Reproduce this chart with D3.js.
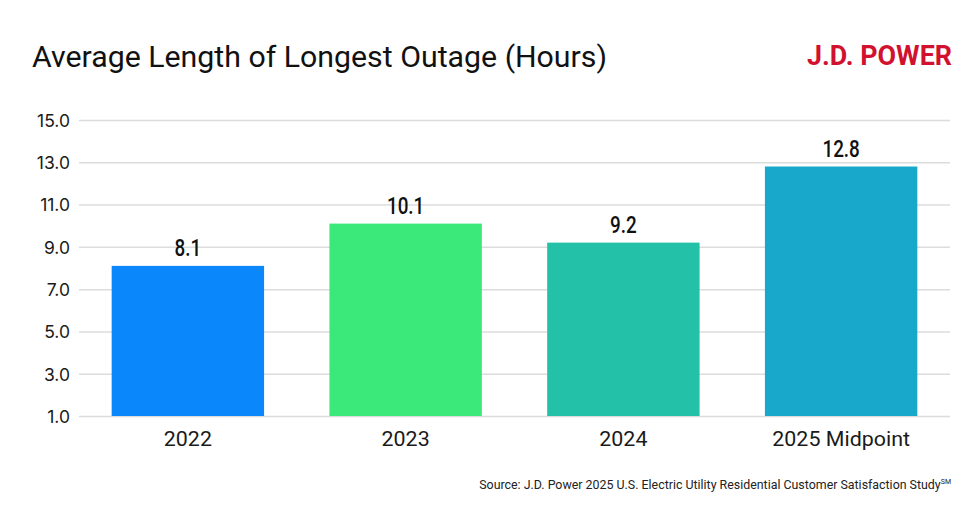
<!DOCTYPE html>
<html>
<head>
<meta charset="utf-8">
<script src="https://cdn.jsdelivr.net/npm/d3@7"></script>
<style>
  html, body { margin: 0; padding: 0; background: #fff; }
  svg { display: block; }
</style>
</head>
<body>
<svg id="chart" width="980" height="508"></svg>
<script>
const categories = ["2022", "2023", "2024", "2025 Midpoint"];
const values = [8.1, 10.1, 9.2, 12.8];
const valueLabels = ["8.1", "10.1", "9.2", "12.8"];
const barColors = ["#0A87FB", "#3AE97A", "#23C1A8", "#18A8CB"];
const yTicks = [1, 3, 5, 7, 9, 11, 13, 15];
const titleText = "Average Length of Longest Outage (Hours)";
const logoText = "J.D. POWER";
const sourceText = "Source: J.D. Power 2025 U.S. Electric Utility Residential Customer Satisfaction Study";

const svg = d3.select("#chart");

const x = d3.scaleBand().domain(categories).range([79, 950]).paddingInner(0.3).paddingOuter(0.15);
const y = d3.scaleLinear().domain([1, 15]).range([416, 120]);

function fitWidth(sel, factor) {
  sel.each(function() {
    const w = this.getComputedTextLength();
    d3.select(this).attr("textLength", w * factor).attr("lengthAdjust", "spacingAndGlyphs");
  });
}

// Title
svg.append("text")
  .attr("x", 32).attr("y", 67)
  .attr("font-family", "Roboto").attr("font-size", 30).attr("fill", "#111")
  .text(titleText)
  .attr("textLength", 575).attr("lengthAdjust", "spacingAndGlyphs");

// Logo
svg.append("text")
  .attr("x", 807).attr("y", 65)
  .attr("font-family", "Roboto").attr("font-weight", 700).attr("font-size", 27).attr("fill", "#D1112E")
  .text(logoText)
  .attr("textLength", 145).attr("lengthAdjust", "spacingAndGlyphs");

// Grid
const yAxis = d3.axisLeft(y).tickValues(yTicks).tickFormat(d3.format(".1f")).tickSize(-(950 - 79)).tickPadding(9);
const gy = svg.append("g").attr("transform", "translate(79,0)").call(yAxis);
gy.select(".domain").remove();
gy.selectAll(".tick line").attr("stroke", "#dcdcdc").attr("stroke-width", 1.5);
gy.selectAll(".tick text")
  .attr("font-family", "Inter").attr("font-size", 17.5).attr("fill", "#1a1a1a")
  .attr("dy", "0.36em");

// Bars
svg.append("g").selectAll("rect").data(values).join("rect")
  .attr("x", (d, i) => x(categories[i]))
  .attr("y", d => y(d))
  .attr("width", x.bandwidth())
  .attr("height", d => y(1) - y(d))
  .attr("fill", (d, i) => barColors[i]);

// Value labels
svg.append("g").selectAll("text").data(values).join("text")
  .attr("x", (d, i) => x(categories[i]) + x.bandwidth() / 2)
  .attr("y", d => y(d) - 10)
  .attr("text-anchor", "middle")
  .attr("font-family", "Roboto").attr("font-weight", 500).attr("font-size", 23).attr("fill", "#111")
  .text((d, i) => valueLabels[i])
  .call(fitWidth, 0.82);

// X axis labels
const xAxis = d3.axisBottom(x).tickSize(0).tickPadding(15);
const gx = svg.append("g").attr("transform", "translate(0,416)").call(xAxis);
gx.select(".domain").remove();
gx.selectAll(".tick text")
  .attr("font-family", "Roboto").attr("font-size", 21).attr("fill", "#1a1a1a")
  .call(fitWidth, 1.02);

// Source
const src = svg.append("text")
  .attr("x", 951).attr("y", 489).attr("text-anchor", "end")
  .attr("font-family", "Roboto").attr("font-size", 12.4).attr("fill", "#222");
src.append("tspan").text(sourceText);
src.append("tspan").attr("font-size", 7).attr("dy", -5).text("SM");
</script>
</body>
</html>
